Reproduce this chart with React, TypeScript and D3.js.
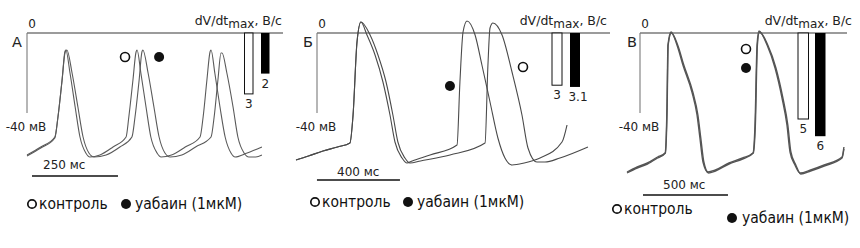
import React from 'react';
import * as d3 from 'd3';

type Pt = [number, number];

// ---- data (time in ms, membrane potential in mV) ----
const panelLetters = ['А', 'Б', 'В'];
const legendLabels = ['контроль', 'уабаин (1мкМ)'];
const voltageTicks = [0, -40];
const voltageTickLabels = ['0', '-40 мВ'];
const scaleBarMs = [250, 400, 500];
const scaleBarLabels = ['250 мс', '400 мс', '500 мс'];
const dvdtTitle = ['dV/dt', 'max', ', В/с'];
const dvdtControl = [3, 3, 5];
const dvdtOuabain = [2, 3.1, 6];
const dvdtControlLabels = ['3', '3', '5'];
const dvdtOuabainLabels = ['2', '3.1', '6'];

const traceA_control: Pt[] = [[0,-61],[40,-57],[81,-52],[90,-42],[102,-23.5],[110,-9.5],[113,-8.5],[125,-20],[140,-37],[154,-52],[171,-60],[183,-62],[212,-61],[250,-57],[288,-52],[296,-42],[308,-23.5],[317,-9.5],[320,-8.5],[331,-20],[346,-37],[360,-52],[378,-60],[390,-62],[420,-61],[460,-57],[503,-52],[512,-42],[523,-23.5],[532,-9.5],[535,-8.5],[546,-20],[561,-37],[576,-52],[593,-60],[605,-62],[640,-60],[683,-57]];
const traceA_ouabain: Pt[] = [[0,-61.5],[40,-57.5],[81,-52.5],[90,-42],[102,-23.5],[111,-9.5],[116,-8.5],[131,-20],[148,-37],[163,-52],[180,-60],[195,-62],[230,-61],[270,-57],[305,-52],[314,-42],[326,-23.5],[334,-9.5],[337,-8.5],[352,-20],[369,-37],[384,-52],[401,-60],[416,-62],[450,-61],[490,-57],[535,-52],[544,-42],[555,-23.5],[564,-10],[567,-10],[581,-20],[599,-37],[613,-52],[631,-60],[645,-62],[665,-62],[683,-61]];

const traceB_control: Pt[] = [[0,-63.5],[60,-61.5],[130,-59],[200,-57],[260,-55],[275,-41],[294,-4.5],[313,5.5],[357,-1],[395,-11],[434,-24.5],[467,-41],[491,-54.5],[525,-62.5],[549,-65],[600,-64],[742,-61],[911,-55],[925,-16],[935,2.5],[949,5],[993,-1],[1041,-19.5],[1089,-41],[1118,-57.5],[1161,-64.5],[1200,-64.5],[1272,-62.5],[1407,-57]];
const traceB_ouabain: Pt[] = [[0,-63.5],[60,-61.5],[130,-59],[200,-57],[260,-55],[275,-41],[294,-4.5],[313,5.5],[342,-1],[381,-11],[419,-24.5],[453,-41],[477,-54.5],[511,-62.5],[535,-65],[560,-64],[646,-61],[776,-56],[790,-24.5],[805,0.5],[824,6],[863,-1],[896,-16],[935,-34.5],[973,-52.5],[1007,-62.5],[1041,-66],[1100,-65],[1176,-62.5],[1282,-54.5],[1306,-46]];

const traceC_control: Pt[] = [[0,-69.5],[60,-67],[120,-65],[180,-62],[224,-60],[235,-37.5],[241,-6],[259,0.5],[294,-6],[329,-16],[382,-29.5],[412,-41],[429,-52.5],[447,-64.5],[476,-69.5],[520,-68.5],[600,-65],[680,-62.5],[741,-60],[753,-46],[765,-6],[776,1],[824,-6],[871,-17.5],[912,-32.5],[941,-46],[959,-59.5],[988,-66],[1018,-70],[1080,-68.5],[1160,-66],[1265,-62],[1276,-57]];
const traceC_ouabain: Pt[] = [[0,-70],[60,-67.5],[120,-65.5],[180,-62.5],[226,-60],[236,-37.5],[242,-6],[261,0],[298,-6],[334,-16],[387,-29.5],[417,-41],[434,-52.5],[452,-64.5],[480,-70],[520,-69],[600,-65.5],[680,-63],[743,-60],[755,-46],[767,-6],[779,0.5],[828,-6],[876,-17.5],[917,-32.5],[946,-46],[964,-59.5],[993,-66],[1022,-70.5],[1080,-69],[1160,-66.5],[1265,-62.5],[1276,-58]];

const tracesControl = [traceA_control, traceB_control, traceC_control];
const tracesOuabain = [traceA_ouabain, traceB_ouabain, traceC_ouabain];
// marker positions in data coordinates (ms, mV): [open, filled]
const markersOpen: Pt[] = [[285, -12], [1094, -17], [700, -8]];
const markersFilled: Pt[] = [[384, -12], [742, -26.5], [700, -17.5]];

// ---- layout ----
const FONT = "'DejaVu Sans', Verdana, sans-serif";
const layouts = [
  { x0: 27, k: 0.344, axisX: 27, zeroRight: 283, letterX: 12, dvEnd: 282, barOpenX: 244.5, barFillX: 261, barW: 8.5, barPx: 20.3, sbStart: 14.5, sbY: 176, sbLabelY: 169, sbLabelX: 43, leg: { oX: 32, oY: 204, fX: 126, fY: 204, cTX: 39, cTY: 209, fTX: 135, fTY: 209 }, color: '#5a5a5a', w: 1.1 },
  { x0: 296, k: 0.2075, axisX: 317, zeroRight: 610, letterX: 303, dvEnd: 607, barOpenX: 552, barFillX: 570, barW: 10, barPx: 17.4, sbStart: 101, sbY: 180, sbLabelY: 176, sbLabelX: 337, leg: { oX: 315, oY: 202, fX: 408, fY: 202, cTX: 322, cTY: 207, fTX: 417, fTY: 207 }, color: '#4a4a4a', w: 1.1 },
  { x0: 627, k: 0.17, axisX: 640, zeroRight: 847, letterX: 627, dvEnd: 852, barOpenX: 798, barFillX: 815, barW: 10.5, barPx: 17.2, sbStart: 94, sbY: 195, sbLabelY: 189, sbLabelX: 663, leg: { oX: 617, oY: 209, fX: 732, fY: 218, cTX: 624, cTY: 214, fTX: 742, fTY: 223 }, color: '#555555', w: 1.4 },
];

const yScale = d3.scaleLinear().domain([voltageTicks[0], voltageTicks[1]]).range([33, 113]);

function Panel({ i }: { i: number }) {
  const L = layouts[i];
  const ctrl = tracesControl[i];
  const oub = tracesOuabain[i];
  const tMax = Math.max(ctrl[ctrl.length - 1][0], oub[oub.length - 1][0]);
  const x = d3.scaleLinear().domain([0, tMax]).range([L.x0, L.x0 + tMax * L.k]);
  const line = d3.line<Pt>().x(d => x(d[0])).y(d => yScale(d[1])).curve(d3.curveMonotoneX);
  const bar = d3.scaleLinear().domain([0, 1]).range([0, L.barPx]);
  const y0 = yScale(0);
  return (
    <g>
      <line x1={L.axisX} x2={L.zeroRight} y1={y0} y2={y0} stroke="#7a7a7a" strokeWidth={1.3} />
      <line x1={L.axisX} x2={L.axisX} y1={y0} y2={yScale(-40)} stroke="#7a7a7a" strokeWidth={1.1} />
      <text x={L.letterX} y={47} fontSize={14.5} fontFamily={FONT} fill="#222">{panelLetters[i]}</text>
      <text x={L.axisX + 5} y={28} fontSize={12} fontFamily={FONT} textAnchor="middle" fill="#222">{voltageTickLabels[0]}</text>
      <text x={L.axisX - 3} y={131} fontSize={12} fontFamily={FONT} textAnchor="middle" fill="#222" dx={2}>{voltageTickLabels[1]}</text>
      <text x={L.dvEnd} y={25} fontSize={12.5} fontFamily={FONT} textAnchor="end" fill="#222">
        {dvdtTitle[0]}<tspan dy={2.5} fontSize={12}>{dvdtTitle[1]}</tspan><tspan dy={-2.5}>{dvdtTitle[2]}</tspan>
      </text>
      <rect x={L.barOpenX} y={y0} width={L.barW} height={bar(dvdtControl[i])} fill="#fff" stroke="#111" strokeWidth={1} />
      <rect x={L.barFillX} y={y0} width={L.barW} height={bar(dvdtOuabain[i])} fill="#000" />
      <text x={L.barOpenX + L.barW / 2} y={y0 + bar(dvdtControl[i]) + 14} fontSize={12} fontFamily={FONT} textAnchor="middle" fill="#222">{dvdtControlLabels[i]}</text>
      <text x={L.barFillX + L.barW / 2 + (i === 1 ? 3 : 0)} y={y0 + bar(dvdtOuabain[i]) + 14} fontSize={12} fontFamily={FONT} textAnchor="middle" fill="#222">{dvdtOuabainLabels[i]}</text>
      <path d={line(oub) || ''} fill="none" stroke={L.color} strokeWidth={L.w} />
      <path d={line(ctrl) || ''} fill="none" stroke={L.color} strokeWidth={L.w} />
      <circle cx={x(markersOpen[i][0])} cy={yScale(markersOpen[i][1])} r={4.5} fill="#fff" stroke="#111" strokeWidth={1.6} />
      <circle cx={x(markersFilled[i][0])} cy={yScale(markersFilled[i][1])} r={5} fill="#111" />
      <line x1={x(L.sbStart)} x2={x(L.sbStart + scaleBarMs[i])} y1={L.sbY} y2={L.sbY} stroke="#111" strokeWidth={1.5} />
      <text x={L.sbLabelX} y={L.sbLabelY} fontSize={12} fontFamily={FONT} fill="#222">{scaleBarLabels[i]}</text>
      <circle cx={L.leg.oX} cy={L.leg.oY} r={4.2} fill="#fff" stroke="#111" strokeWidth={1.7} />
      <text x={L.leg.cTX} y={L.leg.cTY} fontSize={15.5} fontFamily={FONT} fill="#111" style={{ fontStretch: 'condensed' }}>{legendLabels[0]}</text>
      <circle cx={L.leg.fX} cy={L.leg.fY} r={5} fill="#111" />
      <text x={L.leg.fTX} y={L.leg.fTY} fontSize={15.5} fontFamily={FONT} fill="#111" style={{ fontStretch: 'condensed' }}>{legendLabels[1]}</text>
    </g>
  );
}

export default function App() {
  return (
    <svg width={860} height={248} style={{ position: 'absolute', left: 0, top: 0, background: '#fff' }}>
      <rect width={860} height={248} fill="#fff" />
      {[0, 1, 2].map(i => <Panel key={i} i={i} />)}
    </svg>
  );
}
